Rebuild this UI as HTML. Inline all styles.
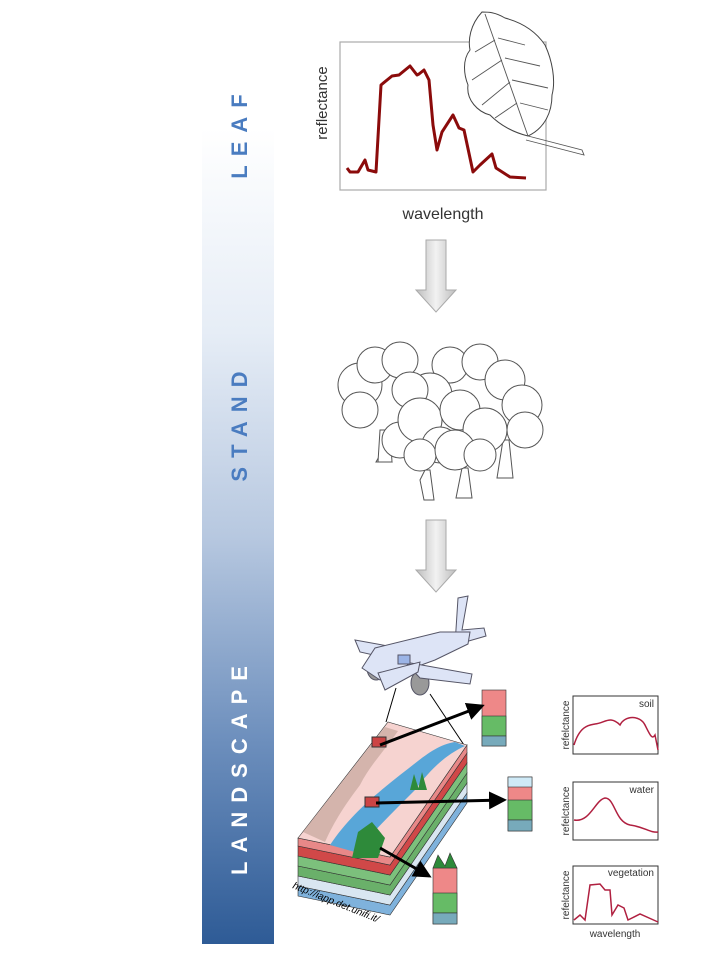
<!DOCTYPE html>
<html><head><meta charset="utf-8"><style>
html,body{margin:0;padding:0;background:#fff;width:720px;height:960px;overflow:hidden;font-family:"Liberation Sans",sans-serif}
</style></head><body>
<svg width="720" height="960" viewBox="0 0 720 960" xmlns="http://www.w3.org/2000/svg" font-family="Liberation Sans, sans-serif">
<defs>
<linearGradient id="bar" x1="0" y1="0" x2="0" y2="1">
<stop offset="0" stop-color="#ffffff"/>
<stop offset="0.25" stop-color="#e6edf6"/>
<stop offset="0.5" stop-color="#b7c8e0"/>
<stop offset="0.75" stop-color="#6d8fbd"/>
<stop offset="1" stop-color="#2e5b96"/>
</linearGradient>
<linearGradient id="arr" x1="0" y1="0" x2="1" y2="0">
<stop offset="0" stop-color="#bdbdbd"/><stop offset="0.5" stop-color="#f2f2f2"/><stop offset="1" stop-color="#bdbdbd"/>
</linearGradient>
<marker id="ah" markerWidth="6" markerHeight="6" refX="5" refY="3" orient="auto"><path d="M0,0 L6,3 L0,6 z" fill="#000"/></marker>
</defs>
<rect x="202" y="128" width="72" height="816" fill="url(#bar)"/>
<g font-weight="bold" font-size="22" letter-spacing="9">
<text transform="translate(247,132) rotate(-90)" text-anchor="middle" fill="#4a7cc0">LEAF</text>
<text transform="translate(247,422) rotate(-90)" text-anchor="middle" fill="#4a7cc0">STAND</text>
<text transform="translate(247,766) rotate(-90)" text-anchor="middle" fill="#ffffff">LANDSCAPE</text>
</g>
<!-- leaf chart -->
<rect x="340" y="42" width="206" height="148" fill="#fff" stroke="#aaa" stroke-width="1.2"/>
<path d="M347,168 L350,172 L358,172 L365,160 L368,170 L376,172 L381,85 L392,76 L399,75 L410,66 L417,75 L419,74 L424,70 L429,80 L433,125 L437,150 L442,132 L453,115 L459,128 L464,130 L473,172 L480,165 L492,154 L496,168 L510,177 L526,178" fill="none" stroke="#8b0b0b" stroke-width="3" stroke-linejoin="round"/>
<text transform="translate(327,103) rotate(-90)" text-anchor="middle" font-size="15" fill="#333">reflectance</text>
<text x="443" y="219" text-anchor="middle" font-size="16" fill="#333">wavelength</text>
<!-- leaf -->
<path d="M482,12 C470,25 468,40 470,50 C462,60 464,75 468,85 C466,100 478,112 490,115 C500,125 512,132 528,136 C545,128 552,112 552,95 C556,80 552,60 545,45 C535,30 520,22 505,18 C495,12 488,12 482,12 Z" fill="#fff" stroke="#444" stroke-width="1"/>
<path d="M485,14 L528,136 M528,136 L582,150 L584,155 L526,140 M495,40 L475,52 M502,60 L472,80 M510,82 L482,105 M517,103 L495,118 M498,38 L525,45 M505,58 L540,66 M512,80 L548,88 M520,103 L548,110" stroke="#555" stroke-width="0.9" fill="none"/>
<!-- arrows -->
<path d="M426,240 H446 V290 H456 L436,312 L416,290 H426 Z" fill="url(#arr)" stroke="#aaa"/>
<path d="M426,520 H446 V570 H456 L436,592 L416,570 H426 Z" fill="url(#arr)" stroke="#aaa"/>
<!-- trees -->
<g fill="#fff" stroke="#555" stroke-width="1">
<circle cx="360" cy="385" r="22"/><circle cx="375" cy="365" r="18"/><circle cx="400" cy="360" r="18"/><circle cx="360" cy="410" r="18"/>
<circle cx="450" cy="365" r="18"/><circle cx="480" cy="362" r="18"/><circle cx="505" cy="380" r="20"/><circle cx="522" cy="405" r="20"/><circle cx="525" cy="430" r="18"/>
<path d="M380,455 L376,462 H392 L388,455 Z"/><path d="M425,470 L420,480 L424,500 H434 L430,470 Z"/><path d="M462,468 L456,498 H472 L468,468 Z"/><path d="M503,440 L497,478 H513 L509,440 Z"/>
<path d="M380,430 L378,462 H392 L390,430 Z"/>
<circle cx="430" cy="395" r="22"/><circle cx="410" cy="390" r="18"/>
<circle cx="400" cy="440" r="18"/><circle cx="420" cy="420" r="22"/><circle cx="440" cy="445" r="18"/><circle cx="420" cy="455" r="16"/>
<circle cx="460" cy="410" r="20"/><circle cx="485" cy="430" r="22"/><circle cx="455" cy="450" r="20"/><circle cx="480" cy="455" r="16"/>
</g>
<!-- plane -->
<g stroke="#556" stroke-width="1" fill="#dde4f6">
<ellipse cx="376" cy="668" rx="9" ry="12" fill="#999"/><ellipse cx="420" cy="683" rx="9" ry="12" fill="#999"/>
<path d="M355,640 L410,650 L405,662 L360,652 Z"/>
<path d="M458,598 L468,596 L462,630 L484,628 L486,636 L455,645 Z"/>
<path d="M362,668 L375,648 L440,632 L470,632 L468,644 L435,660 L380,680 Z"/>
<path d="M405,662 L472,674 L470,684 L420,678 Z"/>
<path d="M378,673 L420,662 L418,672 L385,690 Z"/>
<rect x="398" y="655" width="12" height="9" fill="#9bb4e6"/>
</g>
<line x1="396" y1="688" x2="386" y2="722" stroke="#000"/><line x1="430" y1="694" x2="466" y2="748" stroke="#000"/>
<!-- slab layers -->
<g stroke="#333" stroke-width="0.6">
<path d="M298,886 L390,905 L467,793 V803 L390,915 L298,896 Z" fill="#7fb2dc"/>
<path d="M298,876 L390,895 L467,783 V793 L390,905 L298,886 Z" fill="#d9e6f1"/>
<path d="M298,866 L390,885 L467,773 V783 L390,895 L298,876 Z" fill="#6ab06a"/>
<path d="M298,856 L390,875 L467,763 V773 L390,885 L298,866 Z" fill="#7cc07c"/>
<path d="M298,846 L390,865 L467,753 V763 L390,875 L298,856 Z" fill="#d04848"/>
<path d="M298,838 L390,857 L467,745 V753 L390,865 L298,846 Z" fill="#e88888"/>
<path d="M298,838 L388,722 L467,745 L390,857 Z" fill="#f6d3d0"/>
</g>
<path d="M303,832 L385,727 L398,731 C385,750 370,765 360,785 C345,805 335,820 325,842 Z" fill="#c8aaa0" opacity="0.75"/>
<path d="M330,845 C350,815 375,795 400,775 C420,760 435,745 455,742 L465,746 C445,755 430,770 415,790 C395,810 375,830 355,852 Z" fill="#58a6d8"/>
<path d="M352,858 L358,832 L372,822 L385,838 L378,858 Z" fill="#2e8a3a"/>
<rect x="372" y="737" width="14" height="10" fill="#c44" stroke="#333"/>
<rect x="365" y="797" width="14" height="10" fill="#c44" stroke="#333"/>
<path d="M410,790 L414,774 L419,790 Z M418,790 L422,772 L427,790 Z" fill="#2e8a3a"/>
<!-- stacks -->
<g stroke="#333" stroke-width="0.6">
<rect x="482" y="690" width="24" height="56" fill="#e88"/><rect x="482" y="716" width="24" height="20" fill="#6b6"/><rect x="482" y="736" width="24" height="10" fill="#7ab"/>
<rect x="508" y="777" width="24" height="54" fill="#e88"/><rect x="508" y="800" width="24" height="20" fill="#6b6"/><rect x="508" y="820" width="24" height="11" fill="#7ab"/><rect x="508" y="777" width="24" height="10" fill="#cfeaf7"/>
<rect x="433" y="868" width="24" height="56" fill="#e88"/><rect x="433" y="893" width="24" height="20" fill="#6b6"/><rect x="433" y="913" width="24" height="11" fill="#7ab"/><path d="M433,868 L438,855 L445,866 L450,853 L457,868 Z" fill="#2e8a3a"/>
</g>
<line x1="380" y1="745" x2="482" y2="706" stroke="#000" stroke-width="3" marker-end="url(#ah)"/>
<line x1="376" y1="803" x2="504" y2="800" stroke="#000" stroke-width="3" marker-end="url(#ah)"/>
<line x1="380" y1="848" x2="429" y2="876" stroke="#000" stroke-width="3" marker-end="url(#ah)"/>
<text transform="translate(292,888) rotate(22)" font-size="10" font-style="italic" fill="#000">http://iapp.det.unifi.it/</text>
<!-- small charts -->
<g font-size="10" fill="#333">
<rect x="573" y="696" width="85" height="58" fill="#fff" stroke="#333"/>
<text x="654" y="707" text-anchor="end">soil</text>
<text transform="translate(569,725) rotate(-90)" text-anchor="middle">refelctance</text>
<path d="M574,745 C580,725 590,725 595,724 C605,723 610,715 620,725 C625,715 640,715 645,725 C650,735 652,740 655,735 L658,750" fill="none" stroke="#b02040" stroke-width="1.5"/>
<rect x="573" y="782" width="85" height="58" fill="#fff" stroke="#333"/>
<text x="654" y="793" text-anchor="end">water</text>
<text transform="translate(569,811) rotate(-90)" text-anchor="middle">refelctance</text>
<path d="M574,820 C590,823 595,800 605,798 C615,798 615,822 630,825 C645,827 650,833 658,832" fill="none" stroke="#b02040" stroke-width="1.5"/>
<rect x="573" y="866" width="85" height="58" fill="#fff" stroke="#333"/>
<text x="654" y="876" text-anchor="end">vegetation</text>
<text transform="translate(569,895) rotate(-90)" text-anchor="middle">refelctance</text>
<path d="M574,920 L580,915 L585,920 L590,885 L600,884 L605,890 L610,890 L612,915 L618,905 L624,908 L628,920 L640,914 L658,922" fill="none" stroke="#b02040" stroke-width="1.5"/>
<text x="615" y="937" text-anchor="middle">wavelength</text>
</g>
</svg>
</body></html>
